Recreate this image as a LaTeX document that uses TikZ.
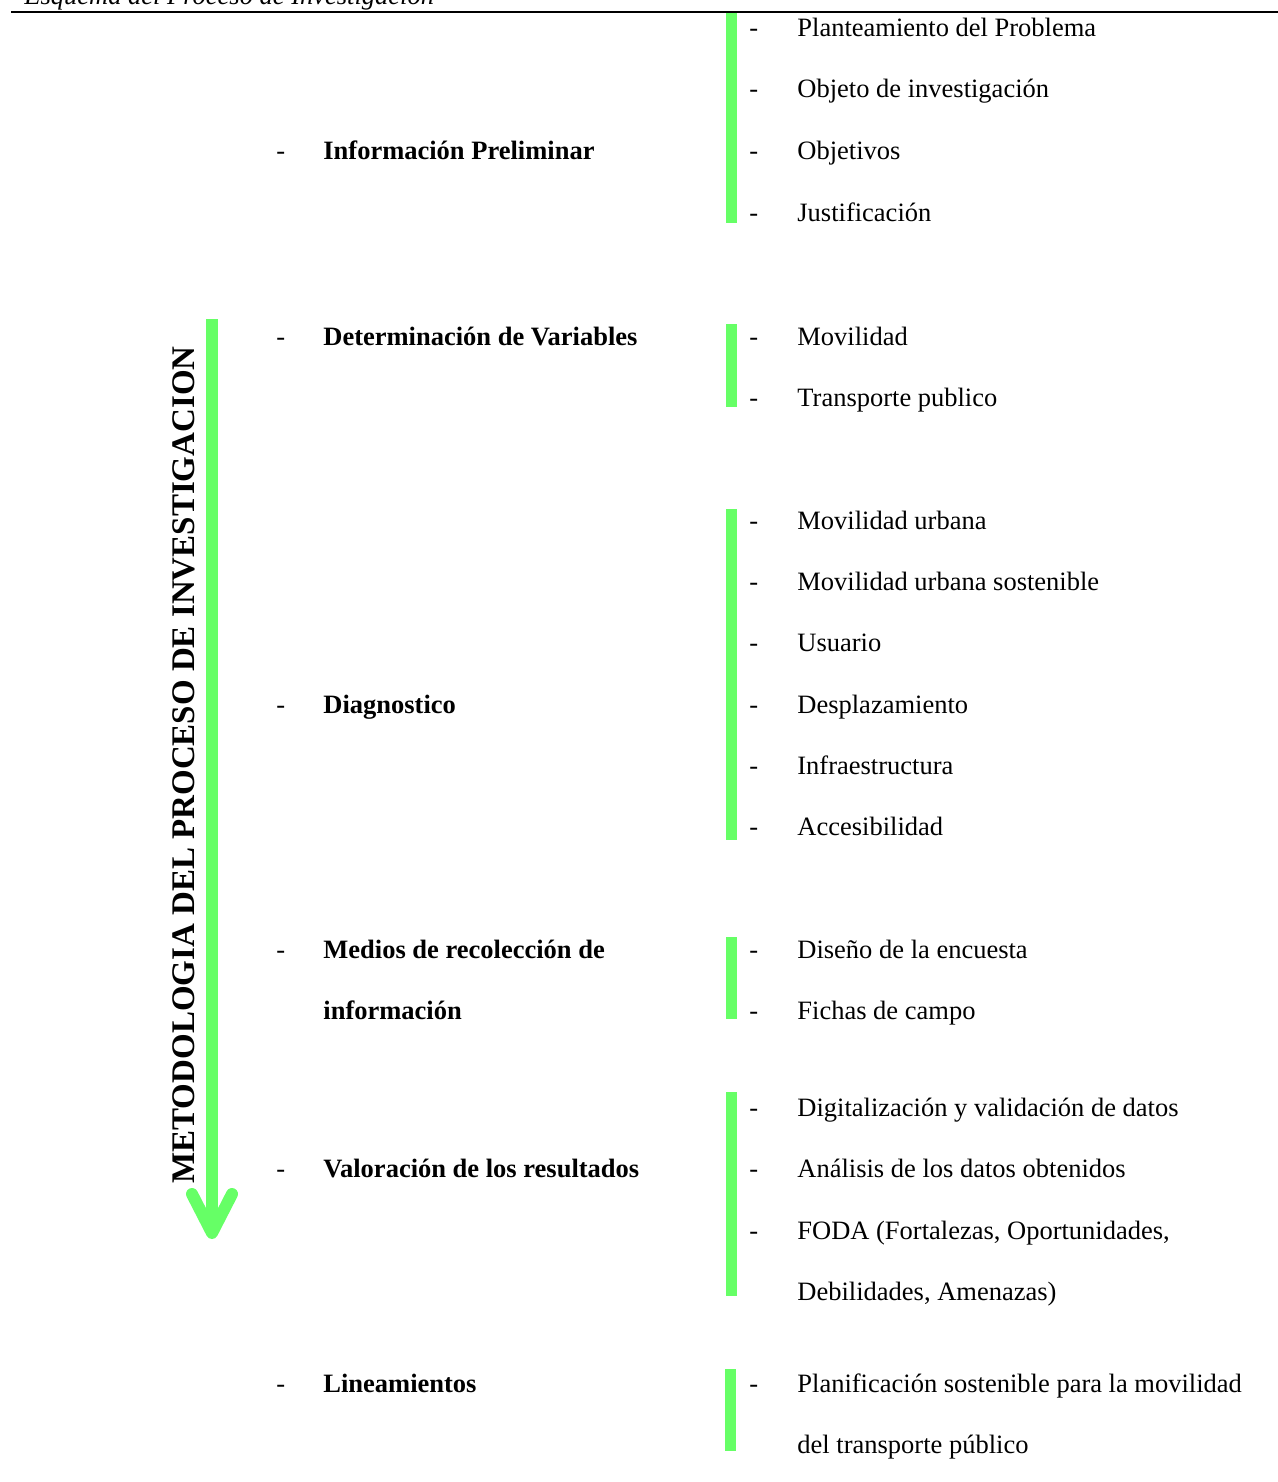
\documentclass[tikz,border=0pt]{standalone}
\usepackage{fontspec}
\setmainfont{Liberation Serif}
\definecolor{verdeclaro}{RGB}{102,255,102}
\tikzset{
  texto/.style = {anchor = base west, inner sep = 0pt, font = \fontsize{13.25}{16}\selectfont},
  etapa/.style = {texto, font = \fontsize{13.25}{16}\selectfont\bfseries},
  barra/.style = {fill = verdeclaro},
  flecha/.style = {draw = verdeclaro, line width = 6pt}
}
\begin{document}
\begin{tikzpicture}[x = 0.5pt, y = -0.5pt]
            \useasboundingbox (0, 0) rectangle (1278, 1482);
            % titulo y regla
            \node [texto, font = \fontsize{13.25}{16}\selectfont\itshape] (titulo) at (24, 5) {Esquema del Proceso de Investigación};
            \draw [line width = 1pt] (11, 12.5) -- (1278, 12.5);

            % flecha vertical
            \draw [flecha] (212, 319) -- (212, 1228);
            \draw [flecha, line cap = round, line join = round] (192, 1194) -- (212, 1233) -- (232, 1194);
            \node [rotate = 90, anchor = base, inner sep = 0pt, font = \fontsize{16.5}{20}\selectfont\bfseries] (metodo) at (194, 765) {METODOLOGIA DEL PROCESO DE INVESTIGACION};

            % etapas
            \node [texto] (prelim-g) at (276, 160) {-};
            \node [etapa] (prelim) at (323, 160) {Información Preliminar};
            \node [texto] (variab-g) at (276, 345) {-};
            \node [etapa] (variab) at (323, 345) {Determinación de Variables};
            \node [texto] (diagn-g) at (276, 713) {-};
            \node [etapa] (diagn) at (323, 713) {Diagnostico};
            \node [texto] (medios-g) at (276, 958) {-};
            \node [etapa] (medios) at (323, 958) {Medios de recolección de};
            \node [etapa] (medios2) at (323, 1019) {información};
            \node [texto] (valor-g) at (276, 1177) {-};
            \node [etapa] (valor) at (323, 1177) {Valoración de los resultados};
            \node [texto] (linea-g) at (276, 1392) {-};
            \node [etapa] (linea) at (323, 1392) {Lineamientos};

            % barras
            \fill [barra] (726, 13) rectangle (737, 223);
            \fill [barra] (726, 324) rectangle (737, 407);
            \fill [barra] (726, 509) rectangle (737, 840);
            \fill [barra] (726, 937) rectangle (737, 1019);
            \fill [barra] (726, 1092) rectangle (737, 1296);
            \fill [barra] (725, 1369) rectangle (736, 1451);

            % informacion preliminar
            \node [texto] (plant-g) at (749, 37) {-};
            \node [texto] (plant) at (797, 37) {Planteamiento del Problema};
            \node [texto] (objeto-g) at (749, 98) {-};
            \node [texto] (objeto) at (797, 98) {Objeto de investigación};
            \node [texto] (objet-g) at (749, 160) {-};
            \node [texto] (objet) at (797, 160) {Objetivos};
            \node [texto] (justif-g) at (749, 221) {-};
            \node [texto] (justif) at (797, 221) {Justificación};

            % variables
            \node [texto] (movil-g) at (749, 345) {-};
            \node [texto] (movil) at (797, 345) {Movilidad};
            \node [texto] (transp-g) at (749, 406) {-};
            \node [texto] (transp) at (797, 406) {Transporte publico};

            % diagnostico
            \node [texto] (urb-g) at (749, 529) {-};
            \node [texto] (urb) at (797, 529) {Movilidad urbana};
            \node [texto] (sost-g) at (749, 590) {-};
            \node [texto] (sost) at (797, 590) {Movilidad urbana sostenible};
            \node [texto] (usu-g) at (749, 651) {-};
            \node [texto] (usu) at (797, 651) {Usuario};
            \node [texto] (despl-g) at (749, 713) {-};
            \node [texto] (despl) at (797, 713) {Desplazamiento};
            \node [texto] (infra-g) at (749, 774) {-};
            \node [texto] (infra) at (797, 774) {Infraestructura};
            \node [texto] (acces-g) at (749, 835) {-};
            \node [texto] (acces) at (797, 835) {Accesibilidad};

            % recoleccion
            \node [texto] (encu-g) at (749, 958) {-};
            \node [texto] (encu) at (797, 958) {Diseño de la encuesta};
            \node [texto] (fichas-g) at (749, 1019) {-};
            \node [texto] (fichas) at (797, 1019) {Fichas de campo};

            % resultados
            \node [texto] (digit-g) at (749, 1116) {-};
            \node [texto] (digit) at (797, 1116) {Digitalización y validación de datos};
            \node [texto] (anal-g) at (749, 1177) {-};
            \node [texto] (anal) at (797, 1177) {Análisis de los datos obtenidos};
            \node [texto] (foda-g) at (749, 1239) {-};
            \node [texto] (foda) at (797, 1239) {FODA (Fortalezas, Oportunidades,};
            \node [texto] (foda2) at (797, 1300) {Debilidades, Amenazas)};

            % lineamientos
            \node [texto] (planif-g) at (749, 1392) {-};
            \node [texto] (planif) at (797, 1392) {Planificación sostenible para la movilidad};
            \node [texto] (planif2) at (797, 1453) {del transporte público};
        \end{tikzpicture}
\end{document}
